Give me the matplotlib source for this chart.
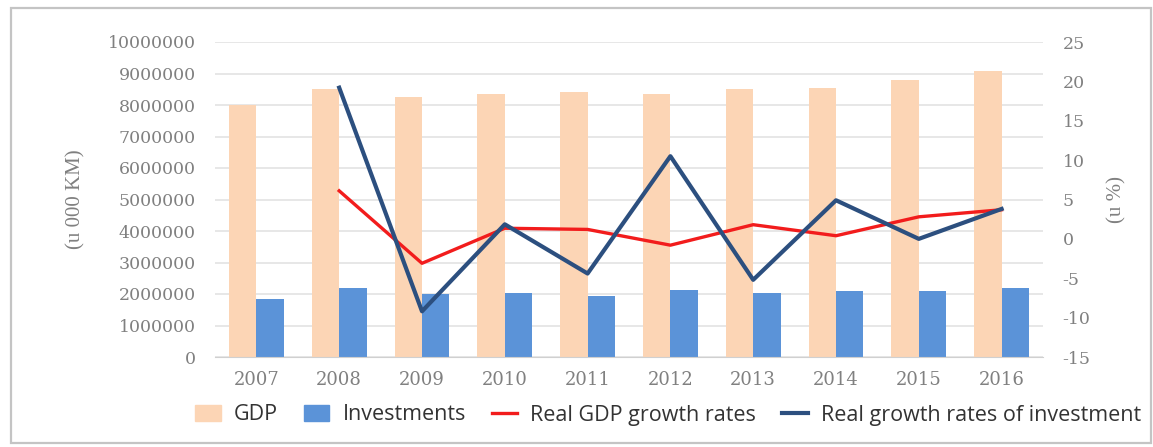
import matplotlib
matplotlib.use("Agg")
import matplotlib.pyplot as plt
from matplotlib.patches import Rectangle, Patch
from matplotlib.lines import Line2D
import numpy as np

plt.rcParams["axes.unicode_minus"] = False

years = ["2007", "2008", "2009", "2010", "2011", "2012", "2013", "2014", "2015", "2016"]
gdp = [8000000, 8500000, 8250000, 8340000, 8420000, 8360000, 8500000, 8550000, 8790000, 9080000]
investments = [1840000, 2200000, 2000000, 2020000, 1940000, 2130000, 2020000, 2100000, 2100000, 2200000]
# growth rates start in 2008
growth_years = years[1:]
gdp_growth = [6.1, -3.1, 1.35, 1.2, -0.8, 1.8, 0.4, 2.8, 3.7]
inv_growth = [19.2, -9.2, 1.85, -4.4, 10.5, -5.2, 4.9, 0.0, 3.8]

c_gdp = "#fcd5b5"
c_inv = "#5b93d8"
c_red = "#f21c1c"
c_blue = "#2c4f7f"
tick_col = "#808080"
serif = ["DejaVu Serif"]

fig = plt.figure(figsize=(11.53, 4.47), dpi=100)
ax = fig.add_axes([215 / 1153, 1 - 357 / 447, 828 / 1153, 315 / 447])
ax2 = ax.twinx()

x = np.arange(len(years))
w = 0.33
ax.bar(x - w / 2, gdp, w, color=c_gdp, zorder=2)
ax.bar(x + w / 2, investments, w, color=c_inv, zorder=2)

xg = np.arange(1, len(years))
ax2.plot(xg, gdp_growth, color=c_red, lw=2.4, zorder=3)
ax2.plot(xg, inv_growth, color=c_blue, lw=3.0, zorder=4)

ax.set_xlim(-0.5, len(years) - 0.5)
ax.set_ylim(0, 10000000)
ax.set_yticks(np.arange(0, 10000001, 1000000))
ax.set_yticklabels([str(v) for v in range(0, 10000001, 1000000)])
ax2.set_ylim(-15, 25)
ax2.set_yticks(range(-15, 26, 5))

ax.set_xticks(x)
ax.set_xticklabels(years)
ax.yaxis.grid(True, color="#e3e3e3", lw=1.2, zorder=0)
ax.set_axisbelow(True)

for a in (ax, ax2):
    for s in a.spines.values():
        s.set_visible(False)
    a.tick_params(length=0, labelcolor=tick_col, labelsize=12.5)
    for lab in a.get_xticklabels() + a.get_yticklabels():
        lab.set_family(serif)
ax.spines["bottom"].set_visible(True)
ax.spines["bottom"].set_color("#d0d0d0")
ax.tick_params(axis="y", pad=14)
ax.tick_params(axis="x", pad=10, labelsize=13)
ax2.tick_params(axis="y", pad=14)

ax.set_ylabel("(u 000 KM)", family=["Liberation Serif"], fontsize=15, color=tick_col, labelpad=16)
ax2.set_ylabel("(u %)", family=["Liberation Serif"], fontsize=15, color=tick_col, rotation=90, labelpad=12)

handles = [
    Patch(color=c_gdp),
    Patch(color=c_inv),
    Line2D([], [], color=c_red, lw=2.4),
    Line2D([], [], color=c_blue, lw=3.0),
]
labels = ["GDP", "Investments", "Real GDP growth rates", "Real growth rates of investment"]
fig.legend(handles, labels, loc="center", bbox_to_anchor=(668 / 1153, 1 - 415 / 447),
           ncol=4, frameon=False, handlelength=1.2, handleheight=0.7, columnspacing=1.2,
           handletextpad=0.6, prop={"family": ["Open Sans", "DejaVu Sans"], "size": 15.5},
           labelcolor="#333333")

fig.patches.append(Rectangle((11 / 1153, 4 / 447), 1140 / 1153, 435 / 447,
                             transform=fig.transFigure, fill=False,
                             edgecolor="#c4c4c4", lw=1.6))

fig.savefig("out.png", dpi=100)
